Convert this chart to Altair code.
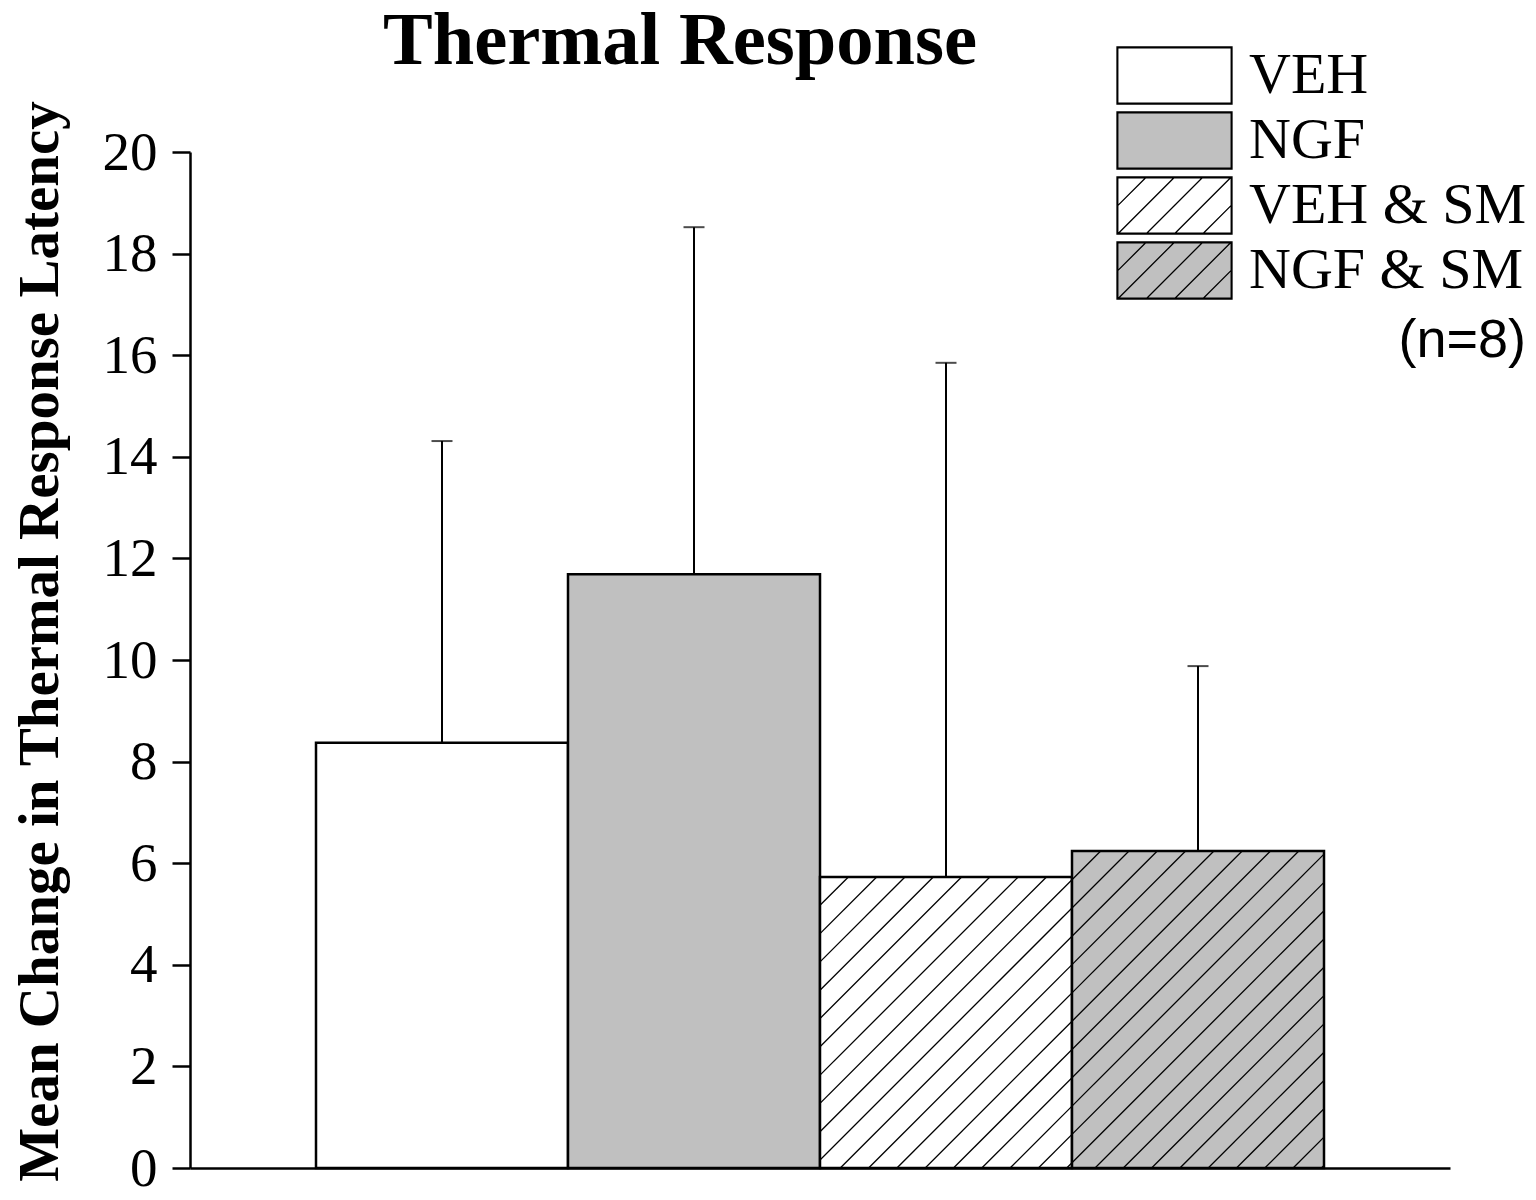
import altair as alt
import pandas as pd

# ---- data ----
groups = ["VEH", "NGF", "VEH & SM", "NGF & SM"]
means = [8.37, 11.69, 5.73, 6.24]
errors = [5.94, 6.83, 10.12, 3.64]
hatched = [False, False, True, True]
fills = ["#ffffff", "#c0c0c0", "#ffffff", "#c0c0c0"]
y_ticks = [0, 2, 4, 6, 8, 10, 12, 14, 16, 18, 20]
title = "Thermal Response"
y_title = "Mean Change in Thermal Response Latency"
n_note = "(n=8)"

# ---- layout / style ----
W, H = 1260, 1016
XMAX, YMAX = 5, 20
PX_X = W / XMAX
PX_Y = H / YMAX
HATCH_S = 28.3
HATCH_PHASE = 905.0
SERIF = "Liberation Serif"
SANS = "Liberation Sans"

bars = pd.DataFrame({
    "group": groups,
    "mean": means,
    "upper": [m + e for m, e in zip(means, errors)],
    "x0": [i + 0.5 for i in range(len(groups))],
    "x1": [i + 1.5 for i in range(len(groups))],
    "xc": [i + 1.0 for i in range(len(groups))],
})

# hatch lines clipped to the hatched bars (45 degrees in pixel space)
rows = []
for i, g in enumerate(groups):
    if not hatched[i]:
        continue
    X0 = (i + 0.5) * PX_X
    X1 = (i + 1.5) * PX_X
    Hb = means[i] * PX_Y
    k = int((X0 - Hb - HATCH_PHASE) // HATCH_S) - 1
    while True:
        c = HATCH_PHASE + k * HATCH_S
        k += 1
        if c > X1:
            break
        xa = max(X0, c)
        xb = min(X1, c + Hb)
        if xb - xa <= 0.5:
            continue
        rows.append({"x": xa / PX_X, "y": (xa - c) / PX_Y,
                     "x2": xb / PX_X, "y2": (xb - c) / PX_Y})
hatch = pd.DataFrame(rows)

# legend swatch paths (unit square scaled by sqrt(size)/2)
SW, SH = 115.0, 57.0
u = 2.0 / SW
hh = SH / SW


def rect(off):
    a = 1 - off * u
    b = hh - off * u
    return f"M{-a:.4f},{-b:.4f}L{a:.4f},{-b:.4f}L{a:.4f},{b:.4f}L{-a:.4f},{b:.4f}Z"


plain_path = rect(0) + rect(0.8)
hp = []
k = -3
while True:
    c = 0.7 + k * HATCH_S
    k += 1
    if c > SW:
        break
    ua = max(0.0, c)
    ub = min(SW, c + SH)
    if ub - ua <= 0.5:
        continue
    va, vb = ua - c, ub - c
    hp.append(f"M{-1 + ua * u:.4f},{hh - va * u:.4f}L{-1 + ub * u:.4f},{hh - vb * u:.4f}")
hatch_path = plain_path + "".join(hp)
shapes = [hatch_path if h else plain_path for h in hatched]

xs = alt.Scale(domain=[0, XMAX], nice=False, zero=False)
ys = alt.Scale(domain=[0, YMAX], nice=False)
fill_scale = alt.Scale(domain=groups, range=fills)
shape_scale = alt.Scale(domain=groups, range=shapes)
stroke_scale = alt.Scale(domain=groups, range=["black"] * len(groups))

legend_def = alt.Legend(
    title=n_note, orient="none", legendX=926, legendY=-109, direction="vertical",
    titleOrient="bottom", titleAnchor="end", titleFont=SANS, titleFontSize=54,
    titleFontWeight="normal", titleColor="black", titlePadding=11,
    labelFont=SERIF, labelFontSize=58, labelColor="black", labelOffset=16,
    labelLimit=500, symbolSize=SW * SW, symbolStrokeColor="black",
    symbolStrokeWidth=1.3, symbolOpacity=1, rowPadding=0, clipHeight=65, padding=0,
)

base = alt.Chart(bars)

bar_layer = base.mark_rect(stroke="black", strokeWidth=2.5).encode(
    x=alt.X("x0:Q", scale=xs,
            axis=alt.Axis(labels=False, ticks=False, grid=False, title=None,
                          domainColor="black", domainWidth=2.5)),
    x2="x1:Q",
    y=alt.Y("mean:Q", scale=ys,
            axis=alt.Axis(values=y_ticks, grid=False, title=y_title,
                          domainColor="black", domainWidth=2.5,
                          tickColor="black", tickWidth=2.5, tickSize=18,
                          labelFont=SERIF, labelFontSize=55, labelColor="black",
                          labelPadding=15,
                          titleFont=SERIF, titleFontSize=57, titleFontWeight="bold",
                          titleColor="black", titleAngle=270,
                          titleX=-133, titleY=489, titleAlign="center",
                          titleBaseline="alphabetic")),
    y2=alt.datum(0),
    fill=alt.Fill("group:N", scale=fill_scale, legend=legend_def),
)

hatch_layer = alt.Chart(hatch).mark_rule(color="black", strokeWidth=1.3).encode(
    x=alt.X("x:Q", scale=xs), y=alt.Y("y:Q", scale=ys),
    x2="x2:Q", y2="y2:Q",
)

err_layer = base.mark_rule(color="black", strokeWidth=2).encode(
    x=alt.X("xc:Q", scale=xs), y=alt.Y("mean:Q", scale=ys), y2="upper:Q",
)

cap_layer = base.mark_tick(color="black", orient="horizontal", size=21, thickness=2).encode(
    x=alt.X("xc:Q", scale=xs), y=alt.Y("upper:Q", scale=ys),
)

legend_layer = base.mark_point(filled=True, size=0, strokeWidth=1.3).encode(
    x=alt.X("xc:Q", scale=xs), y=alt.Y("mean:Q", scale=ys),
    fill=alt.Fill("group:N", scale=fill_scale, legend=legend_def),
    shape=alt.Shape("group:N", scale=shape_scale, legend=legend_def),
    stroke=alt.Stroke("group:N", scale=stroke_scale, legend=legend_def),
)

chart = alt.layer(bar_layer, hatch_layer, err_layer, cap_layer, legend_layer).properties(
    width=W, height=H,
    title=alt.Title(title, font=SERIF, fontSize=74.5, fontWeight="bold", color="black",
                    anchor="middle", dx=-140, dy=40),
    autosize=alt.AutoSizeParams(type="none"),
    padding={"left": 182, "top": 144, "right": 78, "bottom": 24},
).configure(background="white").configure_view(stroke="transparent", strokeWidth=0)

chart.save("out.html", embed_options={"renderer": "svg", "actions": False})
